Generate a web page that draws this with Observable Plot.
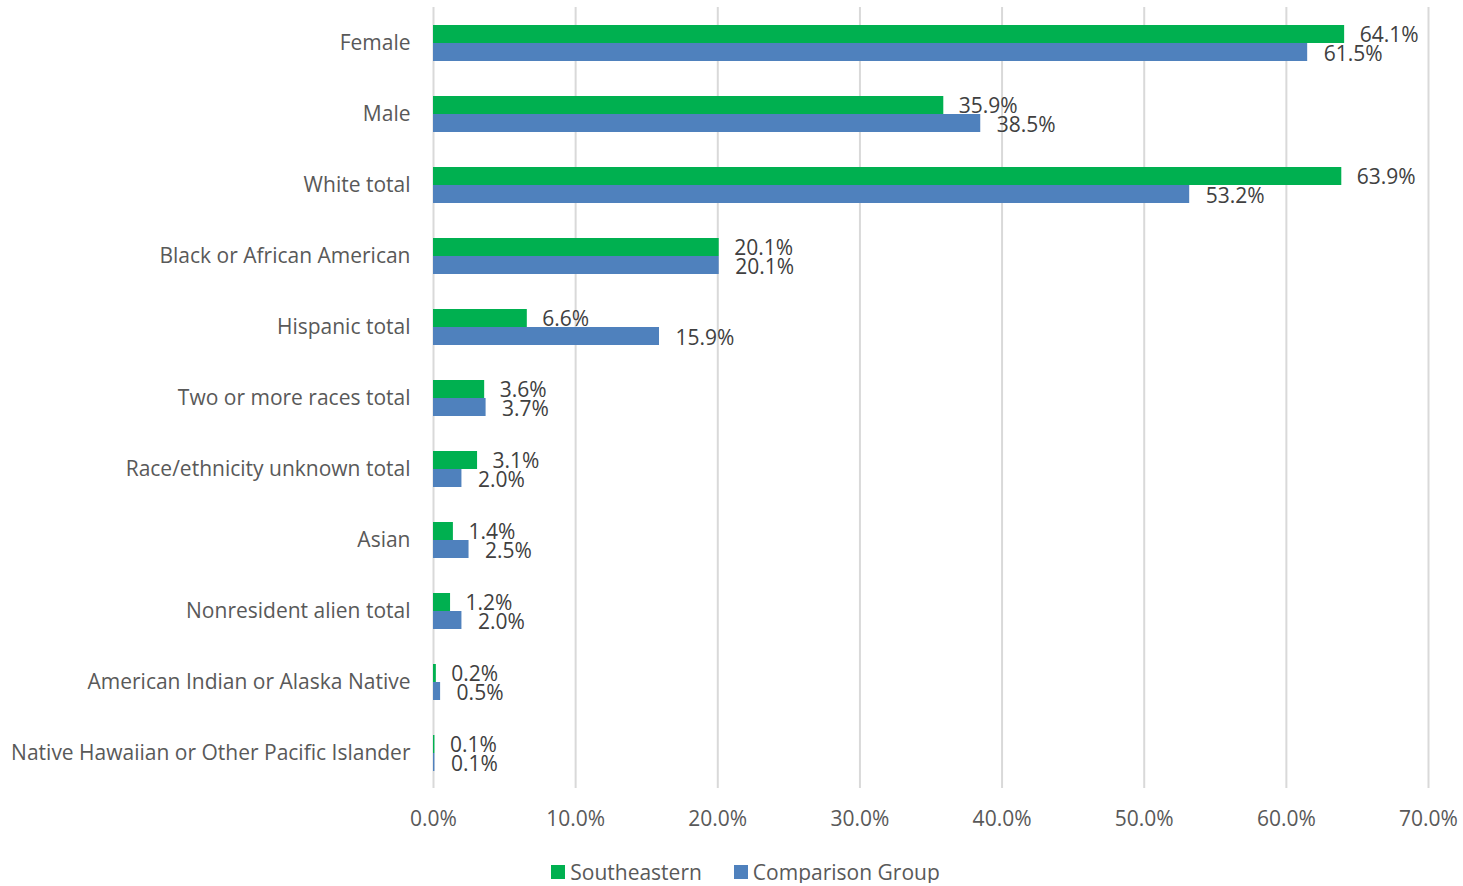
<!DOCTYPE html>
<html>
<head>
<meta charset="utf-8">
<script src="https://cdn.jsdelivr.net/npm/d3@7"></script>
<script src="https://cdn.jsdelivr.net/npm/@observablehq/plot@0.6"></script>
<style>
  body { margin: 0; background: #fff; font-family: "Open Sans", sans-serif; }
  #legend { display: flex; justify-content: center; gap: 32px; width: 1463px; padding-left: 28px; box-sizing: border-box; margin-top: 16px; font-size: 21px; color: #595959; line-height: 22px; }
  #legend span.item { display: flex; align-items: center; }
  #legend span.sw { display: inline-block; width: 14px; height: 14px; margin-right: 5px; }
</style>
</head>
<body>
<div id="chart"></div>
<div id="legend"></div>
<script>
const categories = [
  "Female", "Male", "White total", "Black or African American", "Hispanic total",
  "Two or more races total", "Race/ethnicity unknown total", "Asian",
  "Nonresident alien total", "American Indian or Alaska Native",
  "Native Hawaiian or Other Pacific Islander"
];
const seriesNames = ["Southeastern", "Comparison Group"];
const seriesColors = ["#00b050", "#4f81bd"];
const southeastern = [64.1, 35.9, 63.9, 20.1, 6.6, 3.6, 3.1, 1.4, 1.2, 0.2, 0.1];
const comparison   = [61.5, 38.5, 53.2, 20.1, 15.9, 3.7, 2.0, 2.5, 2.0, 0.5, 0.1];
const xTicks = [0, 10, 20, 30, 40, 50, 60, 70];

const data = [];
categories.forEach((c, i) => {
  data.push({category: c, series: seriesNames[0], value: southeastern[i]});
  data.push({category: c, series: seriesNames[1], value: comparison[i]});
});

const fmt = d => d.toFixed(1) + "%";

const chart = Plot.plot({
  width: 1463,
  height: 845,
  marginTop: 7,
  marginBottom: 57,
  marginLeft: 433,
  marginRight: 35,
  style: {fontFamily: "Open Sans, sans-serif", fontSize: "21px", color: "#595959", background: "#fff"},
  x: {domain: [0, 70], label: null},
  y: {domain: seriesNames, paddingInner: 0, paddingOuter: 0.92, axis: null},
  fy: {domain: categories, padding: 0, label: null, axis: null},
  color: {domain: seriesNames, range: seriesColors},
  marks: [
    Plot.ruleX(xTicks, {stroke: "#d9d9d9", strokeWidth: 2}),
    Plot.barX(data, {x: "value", y: "series", fy: "category", fill: "series", inset: 0}),
    Plot.text(data.filter(d => d.series === seriesNames[0]), {x: "value", y: "series", fy: "category", text: d => fmt(d.value), textAnchor: "start", dx: 15, dy: 1, fill: "#404040", fontSize: 21}),
    Plot.text(data.filter(d => d.series === seriesNames[1]), {x: "value", y: "series", fy: "category", text: d => fmt(d.value), textAnchor: "start", dx: 16, dy: 2, fill: "#404040", fontSize: 21}),
    Plot.axisX({ticks: xTicks, tickFormat: fmt, tickSize: 0, tickPadding: 23, fontSize: 21, fill: "#595959", label: null}),
    Plot.axisFy({anchor: "left", tickSize: 0, tickPadding: 23, fontSize: 21, fill: "#595959", label: null})
  ]
});
document.getElementById("chart").appendChild(chart);

const legend = document.getElementById("legend");
seriesNames.forEach((n, i) => {
  const item = document.createElement("span");
  item.className = "item";
  const sw = document.createElement("span");
  sw.className = "sw";
  sw.style.background = seriesColors[i];
  item.appendChild(sw);
  item.appendChild(document.createTextNode(n));
  legend.appendChild(item);
});
</script>
</body>
</html>
